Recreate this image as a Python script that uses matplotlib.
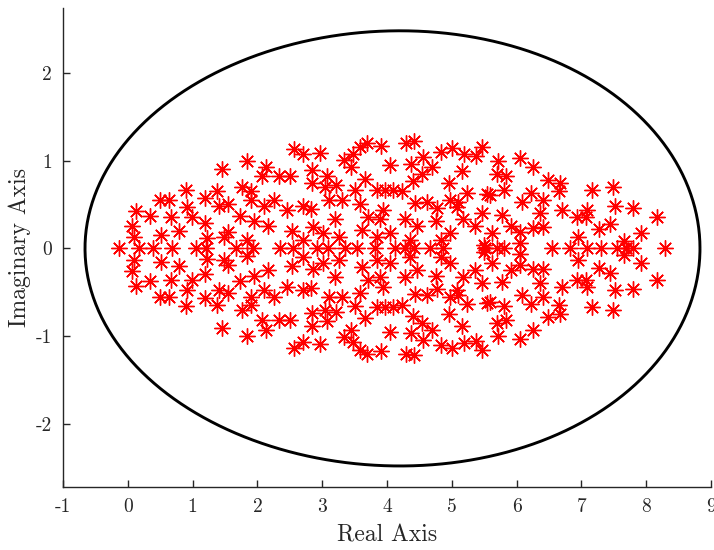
import numpy as np
import matplotlib
matplotlib.use("Agg")
import matplotlib.pyplot as plt

plt.rcParams['font.family'] = 'serif'
plt.rcParams['font.serif'] = ['cmr10']
plt.rcParams['mathtext.fontset'] = 'cm'
plt.rcParams['axes.unicode_minus'] = False

# real eigenvalues
real_eigs = [-0.14, 0.18, 0.39, 0.68, 1.05, 1.21, 1.67, 1.94, 2.35, 2.55, 2.92,
             3.09, 3.35, 3.54, 3.82, 4.12, 4.28, 4.41, 4.66, 4.87, 5.51, 5.69,
             5.80, 6.54, 6.82, 7.09, 7.31, 7.55, 7.69, 7.80, 8.29]

# complex eigenvalues (upper half plane, conjugates are mirrored)
pair_re = [0.90, 0.50, 0.64, 0.13, 0.92, 0.34, 0.67, 0.99, 0.06, 0.79, 0.10, 0.52,
           2.57, 1.84, 1.46, 2.13, 2.07, 2.33, 2.50, 1.77, 1.37, 1.90, 1.19, 1.90,
           2.25, 1.41, 1.54, 2.10, 2.46, 1.73, 1.95, 1.19, 2.17, 2.53, 1.55, 1.49,
           1.22, 1.84,
           3.69, 3.59, 3.91, 2.97, 2.71, 3.47, 3.33, 3.44, 4.04, 2.84, 3.07, 3.66,
           2.85, 3.22, 3.04, 3.51, 3.85, 3.97, 4.10, 3.11, 3.30, 3.58, 2.71, 2.82,
           3.94, 3.70, 3.89, 3.20, 2.86, 3.61, 3.02, 3.26, 3.85, 4.04, 2.71,
           4.30, 4.41, 5.01, 5.47, 4.84, 5.19, 5.37, 4.55, 5.71, 4.37, 4.69, 5.15,
           4.54, 5.70, 5.84, 4.40, 4.95, 4.23, 5.23, 5.54, 5.59, 4.97, 5.09, 4.43,
           4.61, 4.77, 5.08, 5.46, 4.28, 4.76, 5.18, 4.47, 5.36, 4.97, 5.62, 4.36,
           4.84, 5.49, 5.80,
           6.06, 6.26, 6.49, 6.67, 6.22, 6.66, 7.17, 6.08, 6.41, 6.70, 7.09, 6.36,
           5.77, 6.93, 7.07, 5.92, 6.26, 6.41, 6.05, 6.95, 7.27, 6.05,
           7.49, 7.52, 7.80, 8.17, 7.44, 7.92, 7.65]
pair_im = [0.66, 0.55, 0.55, 0.43, 0.47, 0.37, 0.36, 0.36, 0.26, 0.20, 0.13, 0.15,
           1.13, 1.00, 0.91, 0.93, 0.82, 0.82, 0.82, 0.70, 0.65, 0.65, 0.57, 0.55,
           0.55, 0.48, 0.51, 0.48, 0.44, 0.37, 0.31, 0.29, 0.25, 0.20, 0.19, 0.13,
           0.12, 0.09,
           1.20, 1.16, 1.17, 1.09, 1.07, 1.07, 1.01, 0.93, 0.95, 0.89, 0.83, 0.79,
           0.74, 0.72, 0.70, 0.66, 0.67, 0.67, 0.67, 0.55, 0.55, 0.51, 0.48, 0.45,
           0.44, 0.36, 0.33, 0.33, 0.24, 0.21, 0.17, 0.13, 0.13, 0.17, 0.10,
           1.20, 1.22, 1.14, 1.16, 1.10, 1.08, 1.05, 1.04, 1.00, 0.96, 0.93, 0.88,
           0.85, 0.85, 0.82, 0.77, 0.75, 0.65, 0.63, 0.62, 0.61, 0.55, 0.53, 0.52,
           0.53, 0.46, 0.47, 0.40, 0.33, 0.31, 0.33, 0.25, 0.25, 0.17, 0.17, 0.10,
           0.10, 0.04, 0.66,
           1.03, 0.93, 0.78, 0.75, 0.63, 0.65, 0.67, 0.53, 0.55, 0.44, 0.44, 0.40,
           0.38, 0.36, 0.36, 0.25, 0.23, 0.24, 0.19, 0.13, 0.22, 0.06,
           0.70, 0.48, 0.46, 0.36, 0.28, 0.17, 0.08]

# boundary curve (egg-like ellipse)
cx, ax_a, ax_b, skew = 4.085, 4.745, 2.48, 0.115

xticks = [-1, 0, 1, 2, 3, 4, 5, 6, 7, 8, 9]
yticks = [-2, -1, 0, 1, 2]

re = np.concatenate([real_eigs, pair_re, pair_re])
im = np.concatenate([np.zeros(len(real_eigs)), pair_im, -np.array(pair_im)])

t = np.linspace(0, 2 * np.pi, 400)
bx = cx + ax_a * np.cos(t) + skew * np.sin(t) ** 2
by = ax_b * np.sin(t)

fig = plt.figure(figsize=(7.14, 5.5), dpi=100)
ax = fig.add_axes([0.0882, 0.1145, 0.9076, 0.871])

ax.plot(bx, by, color='black', lw=2.1, solid_capstyle='butt',
        solid_joinstyle='round')
ax.plot(re, im, linestyle='none', marker=(8, 2, 0), markersize=11.5,
        markeredgewidth=1.0, color='red')

ax.set_xlim(-1, 9)
ax.set_ylim(-2.72, 2.74)
ax.set_xticks(xticks)
ax.set_xticklabels([str(v) for v in xticks])
ax.set_yticks(yticks)
ax.set_yticklabels([str(v) for v in yticks])
ax.tick_params(direction='in', length=5, width=1, colors='#262626',
               labelsize=14, pad=8)
for s in ['top', 'right']:
    ax.spines[s].set_visible(False)
for s in ['left', 'bottom']:
    ax.spines[s].set_color('#262626')
    ax.spines[s].set_linewidth(1.0)

ax.set_xlabel('Real Axis', fontsize=17, color='#262626', labelpad=6)
ax.set_ylabel('Imaginary Axis', fontsize=17, color='#262626', labelpad=3)

fig.savefig('out.png', dpi=100)
